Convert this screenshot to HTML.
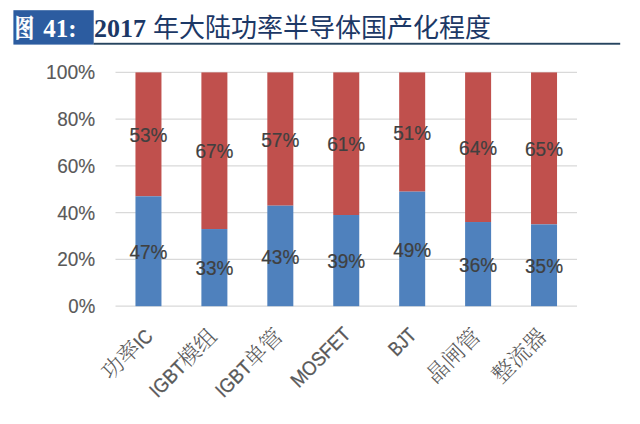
<!DOCTYPE html>
<html><head><meta charset="utf-8">
<style>
html,body{margin:0;padding:0;background:#fff;width:640px;height:424px;overflow:hidden;}
.t{position:absolute;left:0;top:0;}
</style></head>
<body>
<svg class="t" width="640" height="424" viewBox="0 0 640 424">
  <!-- title -->
  <rect x="13.4" y="10.2" width="80.3" height="34.4" fill="#2C5CA0"/>
  <rect x="93.6" y="42.8" width="526.6" height="1.9" fill="#26445F"/>
  <text x="14.8" y="37.3" font-family="'Liberation Serif', 'Noto Serif CJK SC', serif" font-weight="700" font-size="24.5" fill="#fff" stroke="#fff" stroke-width="0.5" transform="translate(14.8,0) scale(0.79,1) translate(-14.8,0)">图</text>
  <text x="43.3" y="37" font-family="'Liberation Serif', serif" font-weight="bold" font-size="25" fill="#fff">41:</text>
  <text x="94" y="37" font-family="'Liberation Serif', serif" font-weight="bold" font-size="26" fill="#1C3866">2017</text>
  <text x="153" y="37" font-family="'Liberation Sans', 'Noto Sans CJK SC', sans-serif" font-weight="400" font-size="26" fill="#1C3866">年大陆功率半导体国产化程度</text>
  <!-- gridlines -->
  <g stroke="#D9D9D9" stroke-width="1.3">
    <line x1="115.5" x2="577" y1="72.4" y2="72.4"/>
    <line x1="115.5" x2="577" y1="119.2" y2="119.2"/>
    <line x1="115.5" x2="577" y1="165.9" y2="165.9"/>
    <line x1="115.5" x2="577" y1="212.7" y2="212.7"/>
    <line x1="115.5" x2="577" y1="259.4" y2="259.4"/>
    <line x1="115.5" x2="577" y1="306.2" y2="306.2"/>
  </g>
  <!-- y labels -->
  <g font-family="Liberation Sans, sans-serif" font-size="20" fill="#595959" stroke="#595959" stroke-width="0.15" text-anchor="end">
    <text x="95.2" y="79.4" textLength="49.2" lengthAdjust="spacingAndGlyphs">100%</text>
    <text x="95.2" y="126.2" textLength="38.0" lengthAdjust="spacingAndGlyphs">80%</text>
    <text x="95.2" y="172.9" textLength="38.0" lengthAdjust="spacingAndGlyphs">60%</text>
    <text x="95.2" y="219.7" textLength="38.0" lengthAdjust="spacingAndGlyphs">40%</text>
    <text x="95.2" y="266.4" textLength="38.0" lengthAdjust="spacingAndGlyphs">20%</text>
    <text x="95.2" y="313.2" textLength="26.9" lengthAdjust="spacingAndGlyphs">0%</text>
  </g>
  <!-- bars -->
<g>
<rect x="135.46" y="72.40" width="26" height="123.91" fill="#C0504D"/>
<rect x="135.46" y="196.31" width="26" height="109.89" fill="#4F81BD"/>
<rect x="201.39" y="72.40" width="26" height="156.65" fill="#C0504D"/>
<rect x="201.39" y="229.05" width="26" height="77.15" fill="#4F81BD"/>
<rect x="267.32" y="72.40" width="26" height="133.27" fill="#C0504D"/>
<rect x="267.32" y="205.67" width="26" height="100.53" fill="#4F81BD"/>
<rect x="333.25" y="72.40" width="26" height="142.62" fill="#C0504D"/>
<rect x="333.25" y="215.02" width="26" height="91.18" fill="#4F81BD"/>
<rect x="399.18" y="72.40" width="26" height="119.24" fill="#C0504D"/>
<rect x="399.18" y="191.64" width="26" height="114.56" fill="#4F81BD"/>
<rect x="465.11" y="72.40" width="26" height="149.63" fill="#C0504D"/>
<rect x="465.11" y="222.03" width="26" height="84.17" fill="#4F81BD"/>
<rect x="531.04" y="72.40" width="26" height="151.97" fill="#C0504D"/>
<rect x="531.04" y="224.37" width="26" height="81.83" fill="#4F81BD"/>
</g>
<g font-family="Liberation Sans, sans-serif" font-size="20.0" fill="#404040" stroke="#404040" stroke-width="0.2" text-anchor="middle">
<text x="148.46" y="142.02" textLength="38.0" lengthAdjust="spacingAndGlyphs">53%</text>
<text x="148.46" y="258.92" textLength="38.0" lengthAdjust="spacingAndGlyphs">47%</text>
<text x="214.39" y="158.38" textLength="38.0" lengthAdjust="spacingAndGlyphs">67%</text>
<text x="214.39" y="275.28" textLength="38.0" lengthAdjust="spacingAndGlyphs">33%</text>
<text x="280.32" y="146.69" textLength="38.0" lengthAdjust="spacingAndGlyphs">57%</text>
<text x="280.32" y="263.59" textLength="38.0" lengthAdjust="spacingAndGlyphs">43%</text>
<text x="346.25" y="151.37" textLength="38.0" lengthAdjust="spacingAndGlyphs">61%</text>
<text x="346.25" y="268.27" textLength="38.0" lengthAdjust="spacingAndGlyphs">39%</text>
<text x="412.18" y="139.68" textLength="38.0" lengthAdjust="spacingAndGlyphs">51%</text>
<text x="412.18" y="256.58" textLength="38.0" lengthAdjust="spacingAndGlyphs">49%</text>
<text x="478.11" y="154.88" textLength="38.0" lengthAdjust="spacingAndGlyphs">64%</text>
<text x="478.11" y="271.78" textLength="38.0" lengthAdjust="spacingAndGlyphs">36%</text>
<text x="544.04" y="156.04" textLength="38.0" lengthAdjust="spacingAndGlyphs">65%</text>
<text x="544.04" y="272.94" textLength="38.0" lengthAdjust="spacingAndGlyphs">35%</text>
</g>
<g font-family="Liberation Sans, 'Noto Serif CJK SC', serif" font-size="22.0" fill="#595959" text-anchor="end">
<text transform="translate(153.96,337.70) rotate(-45)"><tspan font-weight="300">功率</tspan><tspan font-family="Liberation Sans, sans-serif" font-size="20.0" stroke="#595959" stroke-width="0.3" textLength="17.3" lengthAdjust="spacingAndGlyphs">IC</tspan></text>
<text transform="translate(218.39,337.70) rotate(-45)"><tspan font-family="Liberation Sans, sans-serif" font-size="20.0" stroke="#595959" stroke-width="0.3" textLength="42.1" lengthAdjust="spacingAndGlyphs">IGBT</tspan><tspan font-weight="300">模组</tspan></text>
<text transform="translate(284.32,337.70) rotate(-45)"><tspan font-family="Liberation Sans, sans-serif" font-size="20.0" stroke="#595959" stroke-width="0.3" textLength="42.1" lengthAdjust="spacingAndGlyphs">IGBT</tspan><tspan font-weight="300">单管</tspan></text>
<text transform="translate(351.75,335.50) rotate(-45)"><tspan font-family="Liberation Sans, sans-serif" font-size="20.0" stroke="#595959" stroke-width="0.3" textLength="75.0" lengthAdjust="spacingAndGlyphs">MOSFET</tspan></text>
<text transform="translate(417.38,336.20) rotate(-45)"><tspan font-family="Liberation Sans, sans-serif" font-size="20.0" stroke="#595959" stroke-width="0.3" textLength="29.7" lengthAdjust="spacingAndGlyphs">BJT</tspan></text>
<text transform="translate(482.11,337.70) rotate(-45)"><tspan font-weight="300">晶闸管</tspan></text>
<text transform="translate(548.04,337.70) rotate(-45)"><tspan font-weight="300">整流器</tspan></text>
</g>
</svg>
</body></html>
